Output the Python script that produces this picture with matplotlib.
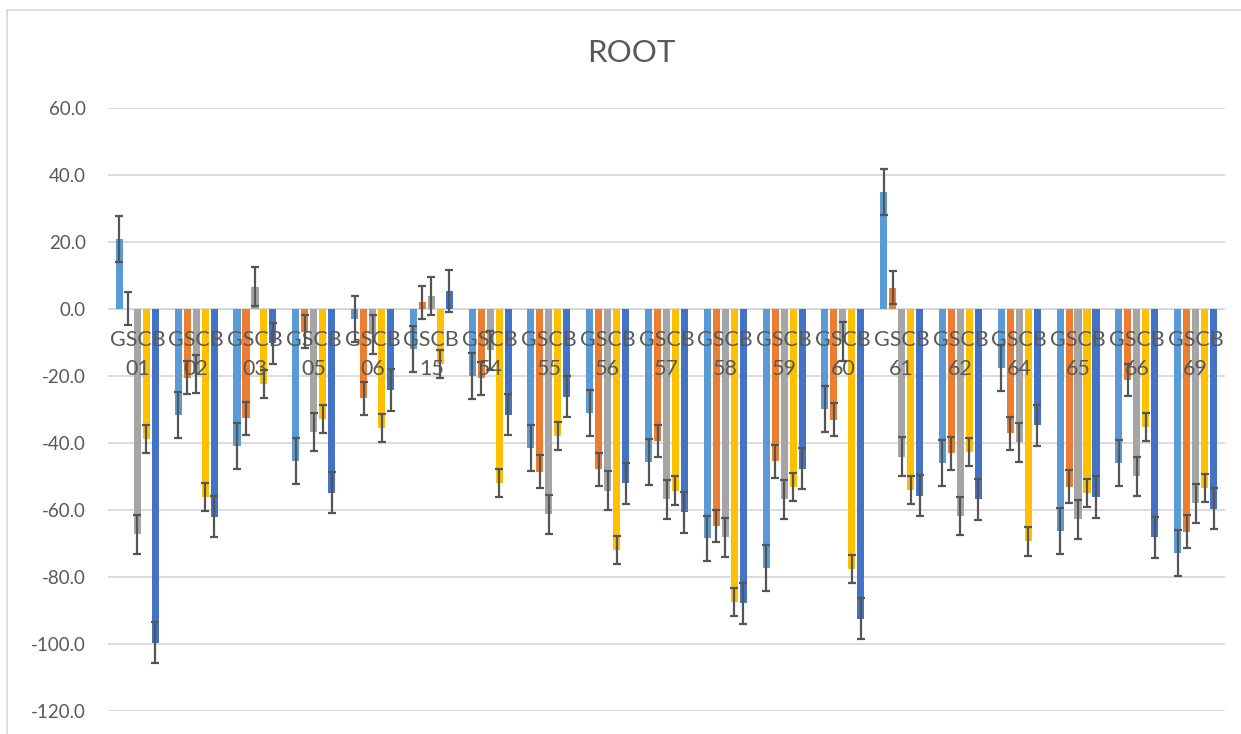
import matplotlib
matplotlib.use("Agg")
import matplotlib.pyplot as plt
import numpy as np
from matplotlib.lines import Line2D

plt.rcParams['font.family'] = ['Lato', 'DejaVu Sans']
plt.rcParams['axes.unicode_minus'] = False

# Sample groups along the category axis
categories = ['01', '02', '03', '05', '06', '15', '54', '55', '56', '57',
              '58', '59', '60', '61', '62', '64', '65', '66', '69']
group_prefix = 'GSCB'

# Five measured series per group
series_1 = [20.8, -31.6, -40.9, -45.3, -3.0, -12.0, -19.9, -41.6, -31.1, -45.7,
            -68.5, -77.4, -29.9, 35.0, -46.1, -17.5, -66.2, -46.1, -72.9]
series_2 = [0.1, -20.5, -32.6, -6.8, -26.7, 2.0, -20.7, -48.6, -47.8, -39.4,
            -64.8, -45.4, -33.1, 6.4, -43.1, -37.1, -53.0, -21.2, -66.5]
series_3 = [-67.3, -19.4, 6.7, -36.7, -7.5, 3.9, -12.3, -61.3, -54.3, -56.8,
            -68.2, -56.8, -9.6, -44.1, -61.8, -39.8, -62.8, -49.9, -58.0]
series_4 = [-38.9, -56.0, -22.5, -32.9, -35.6, -16.4, -52.0, -37.9, -71.9, -54.2,
            -87.4, -53.1, -77.7, -54.0, -42.6, -69.4, -54.8, -35.1, -53.5]
series_5 = [-99.6, -62.0, -10.2, -54.8, -24.2, 5.4, -31.6, -26.2, -52.0, -60.7,
            -87.9, -47.7, -92.4, -55.7, -56.8, -34.7, -56.1, -68.2, -59.6]

# Standard error of each series (one value per series)
series_err = [6.85, 4.9, 5.8, 4.2, 6.15]

y_ticks = [60, 40, 20, 0, -20, -40, -60, -80, -100, -120]

colors = ['#5B9BD5', '#ED7D31', '#A5A5A5', '#FFC000', '#4472C4']
text_color = '#595959'
grid_color = '#D9D9D9'

W, H = 1241, 734
fig = plt.figure(figsize=(W / 100, H / 100), dpi=100)
ax = fig.add_axes([108 / W, (H - 711) / H, (1225 - 108) / W, (711 - 108) / H])

all_series = [series_1, series_2, series_3, series_4, series_5]
x = np.arange(len(categories))
step = 0.153
width = 0.12
for i, (vals, col, err) in enumerate(zip(all_series, colors, series_err)):
    xi = x + (i - 2) * step
    ax.bar(xi, vals, width=width, color=col, zorder=2)
    ax.errorbar(xi, vals, yerr=err, fmt='none', ecolor='#555555',
                elinewidth=1.6, capsize=3.0, capthick=1.6, zorder=4)

ax.set_xlim(-0.5, len(categories) - 0.5)
ax.set_ylim(-120, 60)
ax.set_yticks(y_ticks)
ax.set_yticklabels([f'{v:.1f}' for v in y_ticks], color=text_color, fontsize=13.5)
ax.tick_params(axis='y', length=0, pad=16)
ax.set_xticks([])
for s in ax.spines.values():
    s.set_visible(False)
ax.grid(axis='y', color=grid_color, linewidth=1.3, zorder=0)
ax.set_axisbelow(True)
ax.axhline(0, color=grid_color, linewidth=1.3, zorder=1)

# Two-line category labels sitting just below the zero line
for xi, cat in zip(x, categories):
    ax.annotate(group_prefix, (xi, 0), xytext=(0, -31), textcoords='offset pixels',
                ha='center', va='center', fontsize=15.5, color=text_color, zorder=3)
    ax.annotate(cat, (xi, 0), xytext=(0, -60), textcoords='offset pixels',
                ha='center', va='center', fontsize=15.5, color=text_color, zorder=3)

fig.text(631 / W, 1 - 53 / H, 'ROOT', ha='center', va='center',
         fontsize=22.5, color=text_color)

# Chart area border (left and top edges)
fig.add_artist(Line2D([7 / W, 7 / W], [0, 1 - 10 / H], transform=fig.transFigure,
                      color=grid_color, linewidth=1.3))
fig.add_artist(Line2D([7 / W, 1], [1 - 10 / H, 1 - 10 / H], transform=fig.transFigure,
                      color=grid_color, linewidth=1.3))

fig.savefig('out.png', dpi=100, facecolor='white')
